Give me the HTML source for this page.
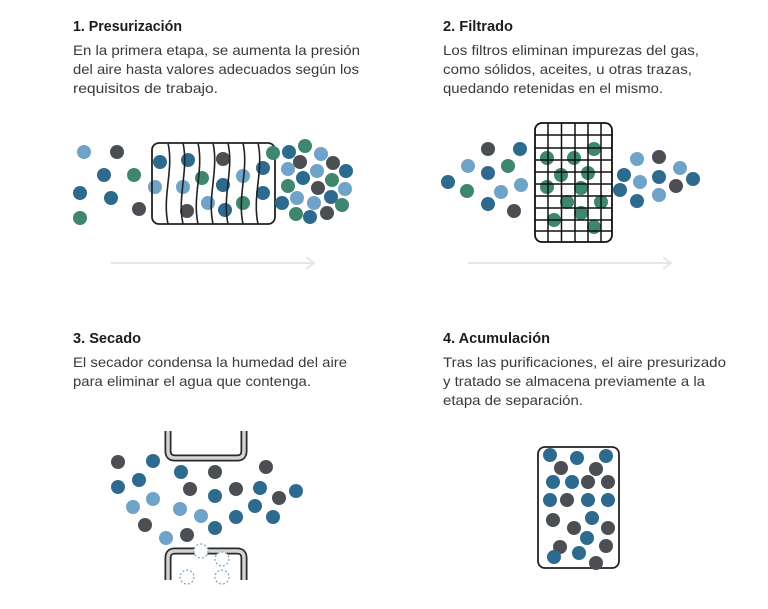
<!DOCTYPE html>
<html><head><meta charset="utf-8"><style>
html,body{margin:0;padding:0;background:#fff;width:768px;height:609px;overflow:hidden}
text{font-family:"Liberation Sans",sans-serif}
.h{font-weight:bold;font-size:14.5px;fill:#1c1c1c}
.b{font-size:14px;fill:#3a3a3a}
.D{fill:#2e6a8e}.L{fill:#6fa3c8}.G{fill:#3f8670}.K{fill:#4b4e53}
</style></head><body>
<svg width="768" height="609" viewBox="0 0 768 609" xmlns="http://www.w3.org/2000/svg">
<text class="h" x="73" y="31" textLength="109" lengthAdjust="spacingAndGlyphs">1. Presurización</text>
<text class="b" x="73" y="55" textLength="287" lengthAdjust="spacingAndGlyphs">En la primera etapa, se aumenta la presión</text>
<text class="b" x="73" y="74" textLength="286" lengthAdjust="spacingAndGlyphs">del aire hasta valores adecuados según los</text>
<text class="b" x="73" y="93" textLength="145" lengthAdjust="spacingAndGlyphs">requisitos de trabajo.</text>
<text class="h" x="443" y="31" textLength="70" lengthAdjust="spacingAndGlyphs">2. Filtrado</text>
<text class="b" x="443" y="55" textLength="256" lengthAdjust="spacingAndGlyphs">Los filtros eliminan impurezas del gas,</text>
<text class="b" x="443" y="74" textLength="249" lengthAdjust="spacingAndGlyphs">como sólidos, aceites, u otras trazas,</text>
<text class="b" x="443" y="93" textLength="220" lengthAdjust="spacingAndGlyphs">quedando retenidas en el mismo.</text>
<text class="h" x="73" y="343" textLength="68" lengthAdjust="spacingAndGlyphs">3. Secado</text>
<text class="b" x="73" y="367" textLength="274" lengthAdjust="spacingAndGlyphs">El secador condensa la humedad del aire</text>
<text class="b" x="73" y="386" textLength="238" lengthAdjust="spacingAndGlyphs">para eliminar el agua que contenga.</text>
<text class="h" x="443" y="343" textLength="107" lengthAdjust="spacingAndGlyphs">4. Acumulación</text>
<text class="b" x="443" y="367" textLength="283" lengthAdjust="spacingAndGlyphs">Tras las purificaciones, el aire presurizado</text>
<text class="b" x="443" y="386" textLength="262" lengthAdjust="spacingAndGlyphs">y tratado se almacena previamente a la</text>
<text class="b" x="443" y="405" textLength="140" lengthAdjust="spacingAndGlyphs">etapa de separación.</text>

<!-- arrows -->
<g stroke="#e6e6e6" stroke-width="2" fill="none">
<path d="M111 263H314M306 257L314 263L306 269"/>
<path d="M468 263H671M663 257L671 263L663 269"/>
</g>

<!-- panel 1 -->
<g r="7">
<circle class="L" cx="84" cy="152" r="7"/><circle class="K" cx="117" cy="152" r="7"/>
<circle class="D" cx="104" cy="175" r="7"/><circle class="G" cx="134" cy="175" r="7"/>
<circle class="D" cx="80" cy="193" r="7"/><circle class="D" cx="111" cy="198" r="7"/>
<circle class="K" cx="139" cy="209" r="7"/><circle class="G" cx="80" cy="218" r="7"/>
<circle class="D" cx="160" cy="162" r="7"/><circle class="D" cx="188" cy="160" r="7"/>
<circle class="K" cx="223" cy="159" r="7"/><circle class="G" cx="202" cy="178" r="7"/>
<circle class="L" cx="243" cy="176" r="7"/><circle class="D" cx="263" cy="168" r="7"/>
<circle class="L" cx="155" cy="187" r="7"/><circle class="L" cx="183" cy="187" r="7"/>
<circle class="D" cx="223" cy="185" r="7"/><circle class="L" cx="208" cy="203" r="7"/>
<circle class="G" cx="243" cy="203" r="7"/><circle class="D" cx="263" cy="193" r="7"/>
<circle class="K" cx="187" cy="211" r="7"/><circle class="D" cx="225" cy="210" r="7"/>
</g>
<rect x="152" y="143" width="123" height="81" rx="7" fill="none" stroke="#222" stroke-width="1.8"/>
<g stroke="#222" stroke-width="1.6" fill="none">
<path d="M168 143C174 170 162 196 168 224"/><path d="M183 143C189 170 177 196 183 224"/>
<path d="M198 143C204 170 192 196 198 224"/><path d="M213 143C219 170 207 196 213 224"/>
<path d="M228 143C234 170 222 196 228 224"/><path d="M243 143C249 170 237 196 243 224"/>
<path d="M258 143C264 170 252 196 258 224"/>
</g>
<g>
<circle class="G" cx="273" cy="153" r="7"/><circle class="D" cx="289" cy="152" r="7"/>
<circle class="G" cx="305" cy="146" r="7"/><circle class="L" cx="321" cy="154" r="7"/>
<circle class="K" cx="300" cy="162" r="7"/><circle class="K" cx="333" cy="163" r="7"/>
<circle class="D" cx="346" cy="171" r="7"/><circle class="L" cx="288" cy="169" r="7"/>
<circle class="L" cx="317" cy="171" r="7"/><circle class="D" cx="303" cy="178" r="7"/>
<circle class="G" cx="332" cy="180" r="7"/><circle class="G" cx="288" cy="186" r="7"/>
<circle class="K" cx="318" cy="188" r="7"/><circle class="L" cx="345" cy="189" r="7"/>
<circle class="L" cx="297" cy="198" r="7"/><circle class="D" cx="331" cy="197" r="7"/>
<circle class="L" cx="314" cy="203" r="7"/><circle class="D" cx="282" cy="203" r="7"/>
<circle class="G" cx="296" cy="214" r="7"/><circle class="K" cx="327" cy="213" r="7"/>
<circle class="G" cx="342" cy="205" r="7"/><circle class="D" cx="310" cy="217" r="7"/>
</g>

<!-- panel 2 -->
<g>
<circle class="K" cx="488" cy="149" r="7"/><circle class="D" cx="520" cy="149" r="7"/>
<circle class="L" cx="468" cy="166" r="7"/><circle class="D" cx="488" cy="173" r="7"/>
<circle class="G" cx="508" cy="166" r="7"/><circle class="D" cx="448" cy="182" r="7"/>
<circle class="G" cx="467" cy="191" r="7"/><circle class="L" cx="501" cy="192" r="7"/>
<circle class="L" cx="521" cy="185" r="7"/><circle class="D" cx="488" cy="204" r="7"/>
<circle class="K" cx="514" cy="211" r="7"/>
<circle class="L" cx="637" cy="159" r="7"/><circle class="K" cx="659" cy="157" r="7"/>
<circle class="D" cx="624" cy="175" r="7"/><circle class="L" cx="640" cy="182" r="7"/>
<circle class="D" cx="659" cy="177" r="7"/><circle class="L" cx="680" cy="168" r="7"/>
<circle class="K" cx="676" cy="186" r="7"/><circle class="D" cx="693" cy="179" r="7"/>
<circle class="D" cx="620" cy="190" r="7"/><circle class="D" cx="637" cy="201" r="7"/>
<circle class="L" cx="659" cy="195" r="7"/>
<circle class="G" cx="547" cy="158" r="7"/><circle class="G" cx="574" cy="158" r="7"/>
<circle class="G" cx="594" cy="149" r="7"/><circle class="G" cx="561" cy="175" r="7"/>
<circle class="G" cx="588" cy="173" r="7"/><circle class="G" cx="547" cy="187" r="7"/>
<circle class="G" cx="581" cy="188" r="7"/><circle class="G" cx="567" cy="202" r="7"/>
<circle class="G" cx="601" cy="202" r="7"/><circle class="G" cx="581" cy="213" r="7"/>
<circle class="G" cx="554" cy="220" r="7"/><circle class="G" cx="594" cy="227" r="7"/>
</g>
<g stroke="#111" stroke-width="1.5" fill="none">
<path d="M548 123V242M561.5 123V242M575 123V242M588 123V242M601 123V242"/>
<path d="M535 135H612M535 148H612M535 160H612M535 172H612M535 184H612M535 196H612M535 208H612M535 220H612M535 231H612"/>
<rect x="535" y="123" width="77" height="119" rx="7" stroke-width="1.8"/>
</g>

<!-- panel 3 -->
<g fill="none" stroke-linecap="butt">
<path d="M168 431V451Q168 458 175 458H237Q244 458 244 451V431" stroke="#2a2a2a" stroke-width="7"/>
<path d="M168 431V451Q168 458 175 458H237Q244 458 244 451V431" stroke="#d4d4d4" stroke-width="3.5"/>
<path d="M168 580V558Q168 551 175 551H237Q244 551 244 558V580" stroke="#2a2a2a" stroke-width="7"/>
<path d="M168 580V558Q168 551 175 551H237Q244 551 244 558V580" stroke="#d4d4d4" stroke-width="3.5"/>
</g>
<g>
<circle class="K" cx="118" cy="462" r="7"/><circle class="D" cx="153" cy="461" r="7"/>
<circle class="D" cx="181" cy="472" r="7"/><circle class="K" cx="215" cy="472" r="7"/>
<circle class="K" cx="266" cy="467" r="7"/><circle class="D" cx="118" cy="487" r="7"/>
<circle class="D" cx="139" cy="480" r="7"/><circle class="K" cx="190" cy="489" r="7"/>
<circle class="D" cx="215" cy="496" r="7"/><circle class="K" cx="236" cy="489" r="7"/>
<circle class="D" cx="260" cy="488" r="7"/><circle class="D" cx="296" cy="491" r="7"/>
<circle class="K" cx="279" cy="498" r="7"/><circle class="L" cx="133" cy="507" r="7"/>
<circle class="L" cx="153" cy="499" r="7"/><circle class="L" cx="180" cy="509" r="7"/>
<circle class="D" cx="255" cy="506" r="7"/><circle class="D" cx="273" cy="517" r="7"/>
<circle class="L" cx="201" cy="516" r="7"/><circle class="K" cx="145" cy="525" r="7"/>
<circle class="L" cx="166" cy="538" r="7"/><circle class="K" cx="187" cy="535" r="7"/>
<circle class="D" cx="215" cy="528" r="7"/><circle class="D" cx="236" cy="517" r="7"/>
</g>
<g fill="#fff" stroke="#6fa3c8" stroke-width="1.2" stroke-dasharray="2 2">
<circle cx="201" cy="551" r="7"/><circle cx="222" cy="559" r="7"/>
<circle cx="187" cy="577" r="7"/><circle cx="222" cy="577" r="7"/>
</g>

<!-- panel 4 -->
<rect x="538" y="447" width="81" height="121" rx="7" fill="none" stroke="#222" stroke-width="1.8"/>
<g>
<circle class="D" cx="550" cy="455" r="7"/><circle class="D" cx="577" cy="458" r="7"/>
<circle class="D" cx="606" cy="456" r="7"/><circle class="K" cx="561" cy="468" r="7"/>
<circle class="K" cx="596" cy="469" r="7"/><circle class="D" cx="553" cy="482" r="7"/>
<circle class="D" cx="572" cy="482" r="7"/><circle class="K" cx="588" cy="482" r="7"/>
<circle class="K" cx="608" cy="482" r="7"/><circle class="D" cx="550" cy="500" r="7"/>
<circle class="K" cx="567" cy="500" r="7"/><circle class="D" cx="588" cy="500" r="7"/>
<circle class="D" cx="608" cy="500" r="7"/><circle class="K" cx="553" cy="520" r="7"/>
<circle class="K" cx="574" cy="528" r="7"/><circle class="D" cx="592" cy="518" r="7"/>
<circle class="K" cx="608" cy="528" r="7"/><circle class="K" cx="560" cy="547" r="7"/>
<circle class="D" cx="587" cy="538" r="7"/><circle class="K" cx="606" cy="546" r="7"/>
<circle class="D" cx="554" cy="557" r="7"/><circle class="D" cx="579" cy="553" r="7"/>
<circle class="K" cx="596" cy="563" r="7"/>
</g>
</svg>
</body></html>
